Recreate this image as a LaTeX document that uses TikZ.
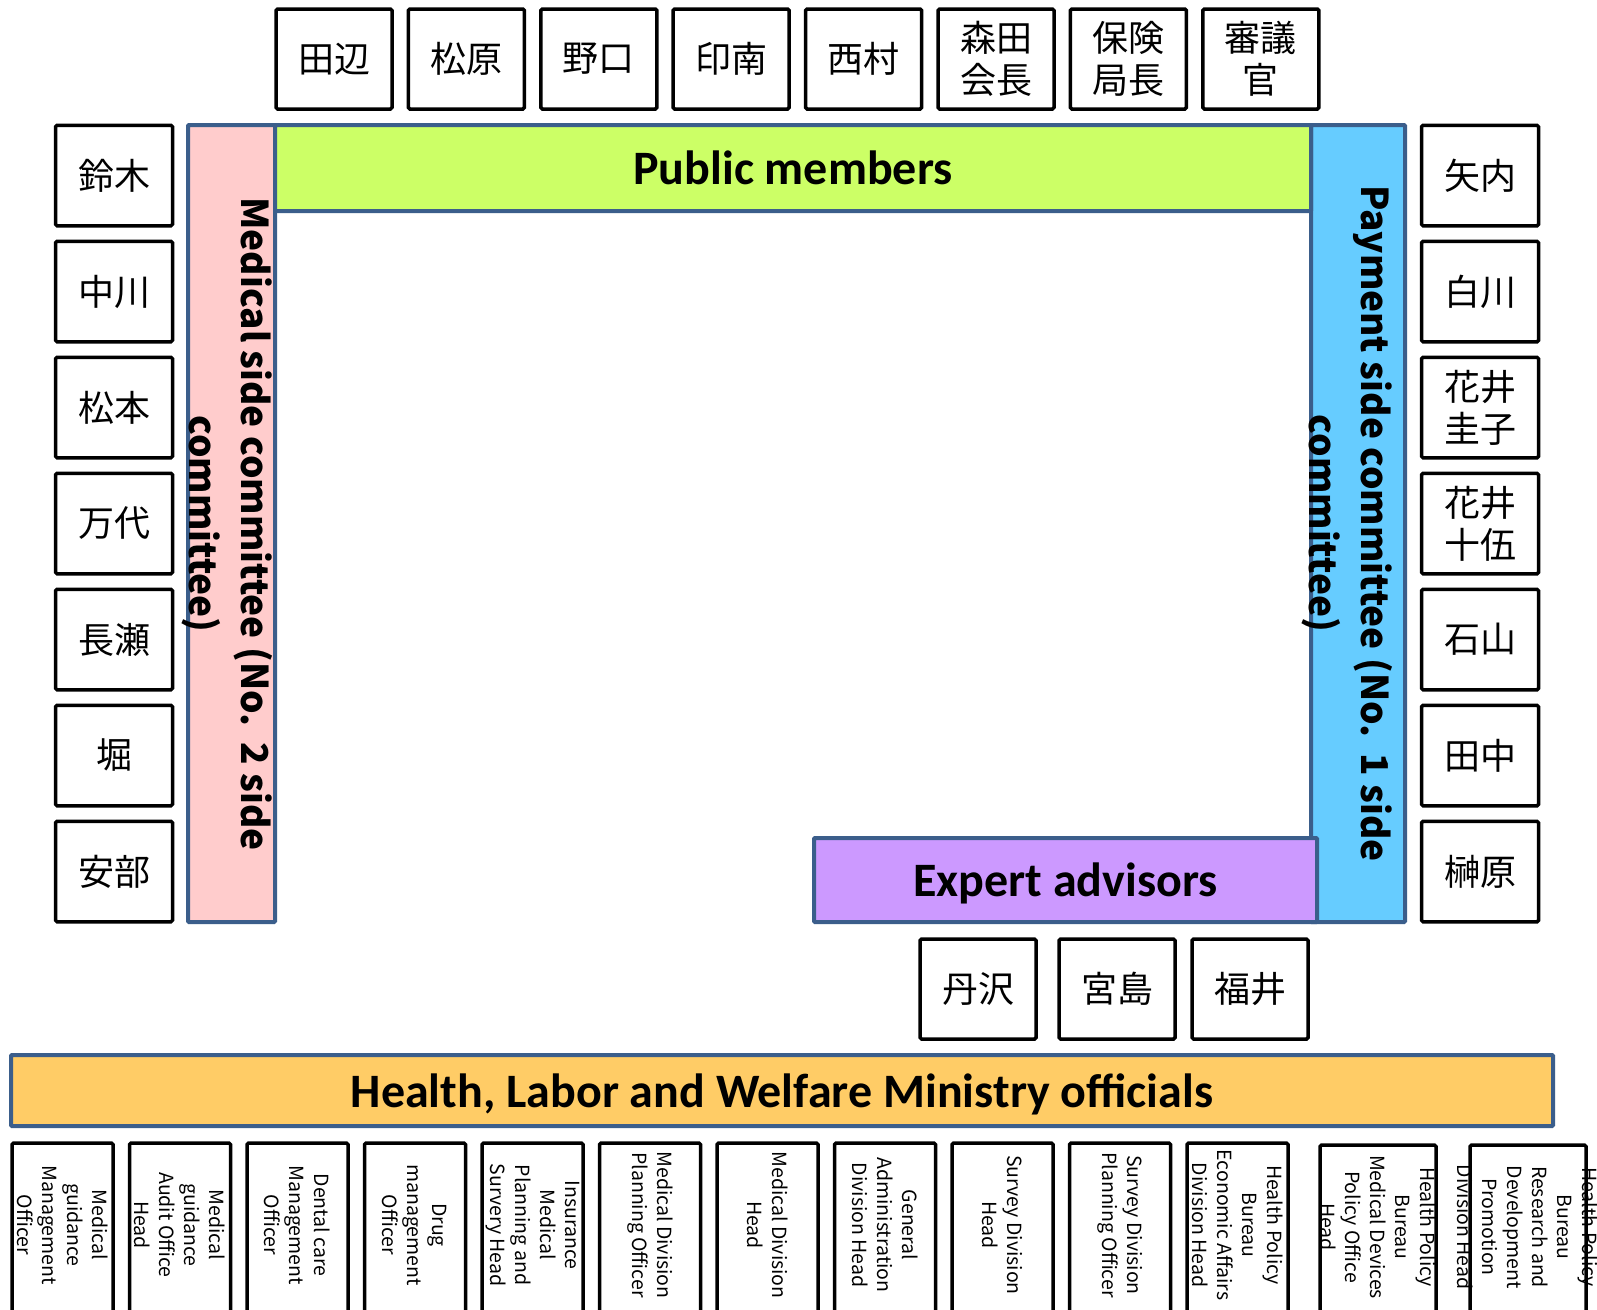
\documentclass[tikz,border=0pt]{standalone}
\usepackage{fontspec}
\setmainfont{Noto Sans CJK JP}
\newfontfamily\titlefont{Carlito}
\definecolor{edgeblue}{HTML}{3B5E8B}
\definecolor{pinkfill}{HTML}{FFCCCC}
\definecolor{greenfill}{HTML}{CCFF66}
\definecolor{bluefill}{HTML}{66CCFF}
\definecolor{purplefill}{HTML}{CC99FF}
\definecolor{orangefill}{HTML}{FFCC66}
\begin{document}
\begin{tikzpicture}[x=1pt,y=-1pt,
  namebox/.style={draw=black, line width=3.5pt, rounded corners=1.5pt, fill=white,
    minimum width=116pt, minimum height=100pt, inner sep=0pt, align=center,
    font=\fontsize{36}{42}\selectfont},
  sidebox/.style={namebox, minimum width=117pt, minimum height=100.5pt},
  band/.style={draw=edgeblue, line width=4pt, rounded corners=1pt, inner sep=0pt},
  bandtitle/.style={font=\titlefont\bfseries\fontsize{48}{56}\selectfont, inner sep=0pt},
  sidetext/.style={rotate=-90, align=center, inner sep=0pt,
    font=\bfseries\fontsize{37}{52}\selectfont},
  offbox/.style={draw=black, line width=3.5pt, rounded corners=1.5pt, fill=white,
    minimum width=101pt, minimum height=173pt, inner sep=0pt},
  widebox/.style={offbox, minimum width=116pt, minimum height=171pt},
  offtext/.style={rotate=-90, align=center, inner sep=0pt,
    font=\fontsize{19.5}{25}\selectfont}
]
\useasboundingbox (0,0) rectangle (1597,1309);

% committee bands
\node[band, fill=pinkfill, minimum width=87pt, minimum height=797pt] (medband) at (231.5,523.5) {};
\node[band, fill=bluefill, minimum width=94pt, minimum height=797pt] (payband) at (1358,523.5) {};
\node[band, fill=greenfill, minimum width=1036pt, minimum height=86pt] (pubband) at (793,168) {};
\node[band, fill=purplefill, minimum width=503pt, minimum height=84pt] (expband) at (1065.5,880) {};
\node[band, fill=orangefill, minimum width=1542pt, minimum height=71pt] (minband) at (782,1090.5) {};

\node[bandtitle] (pubtitle) at (pubband) {Public members};
\node[bandtitle, yshift=-3pt] (exptitle) at (expband) {Expert advisors};
\node[bandtitle, yshift=-4pt] (mintitle) at (minband) {Health, Labor and Welfare Ministry officials};

\node[sidetext] (medtitle) at (227,524) {Medical side committee (No.\hspace{16pt}2 side\\committee)};
\node[sidetext] (paytitle) at (1347,523.5) {Payment side committee (No.\hspace{16pt}1 side\\committee)};

% public members
\node[namebox] (t1) at (334,59) {田辺};
\node[namebox] (t2) at (466.4,59) {松原};
\node[namebox] (t3) at (598.8,59) {野口};
\node[namebox] (t4) at (731.2,59) {印南};
\node[namebox] (t5) at (863.6,59) {西村};
\node[namebox] (t6) at (996,59) {森田\\会長};
\node[namebox] (t7) at (1128.4,59) {保険\\局長};
\node[namebox] (t8) at (1260.8,59) {審議\\官};

% medical side members
\node[sidebox] (l1) at (114,175.5) {鈴木};
\node[sidebox] (l2) at (114,291.5) {中川};
\node[sidebox] (l3) at (114,407.5) {松本};
\node[sidebox] (l4) at (114,523.5) {万代};
\node[sidebox] (l5) at (114,639.5) {長瀬};
\node[sidebox] (l6) at (114,755.5) {堀};
\node[sidebox] (l7) at (114,871.5) {安部};

% payment side members
\node[sidebox] (r1) at (1480,175.5) {矢内};
\node[sidebox] (r2) at (1480,291.5) {白川};
\node[sidebox] (r3) at (1480,407.5) {花井\\圭子};
\node[sidebox] (r4) at (1480,523.5) {花井\\十伍};
\node[sidebox] (r5) at (1480,639.5) {石山};
\node[sidebox] (r6) at (1480,755.5) {田中};
\node[sidebox] (r7) at (1480,871.5) {榊原};

% expert advisors
\node[namebox] (e1) at (978,989) {丹沢};
\node[namebox] (e2) at (1117,989) {宮島};
\node[namebox] (e3) at (1250,989) {福井};

% ministry officials
\begin{scope}
\clip (0,0) rectangle (1597,1309);
\node[offbox] (o1) at (62.5,1229.5) {};
\node[offbox] (o2) at (180,1229.5) {};
\node[offbox] (o3) at (297.5,1229.5) {};
\node[offbox] (o4) at (415,1229.5) {};
\node[offbox] (o5) at (532.5,1229.5) {};
\node[offbox] (o6) at (650,1229.5) {};
\node[offbox] (o7) at (767.5,1229.5) {};
\node[offbox] (o8) at (885,1229.5) {};
\node[offbox] (o9) at (1002.5,1229.5) {};
\node[offbox] (o10) at (1120,1229.5) {};
\node[offbox] (o11) at (1237.5,1229.5) {};
\node[widebox] (o12) at (1378,1230.5) {};
\node[widebox] (o13) at (1528,1230.5) {};

\node[offtext] (o1t) at (62.5,1225) {Medical\\guidance\\Management\\Officer};
\node[offtext] (o2t) at (180,1225) {Medical\\guidance\\Audit Office\\Head};
\node[offtext] (o3t) at (297.5,1225) {Dental care\\Management\\Officer};
\node[offtext] (o4t) at (415,1225) {Drug\\management\\Officer};
\node[offtext] (o5t) at (532.5,1225) {Insurance\\Medical\\Planning and\\Survery Head};
\node[offtext] (o6t) at (650,1225) {Medical Division\\Planning Officer};
\node[offtext] (o7t) at (767.5,1225) {Medical Division\\Head};
\node[offtext] (o8t) at (885,1225) {General\\Administration\\Division Head};
\node[offtext] (o9t) at (1002.5,1225) {Survey Division\\Head};
\node[offtext] (o10t) at (1120,1225) {Survey Division\\Planning Officer};
\node[offtext] (o11t) at (1237.5,1225) {Health Policy\\Bureau\\Economic Affairs\\Division Head};
\node[offtext] (o12t) at (1378,1227) {Health Policy\\Bureau\\Medical Devices\\Policy Office\\Head};
\node[offtext] (o13t) at (1528,1227) {Health Policy\\Bureau\\Research and\\Development\\Promotion\\Division Head};
\end{scope}
\end{tikzpicture}
\end{document}
